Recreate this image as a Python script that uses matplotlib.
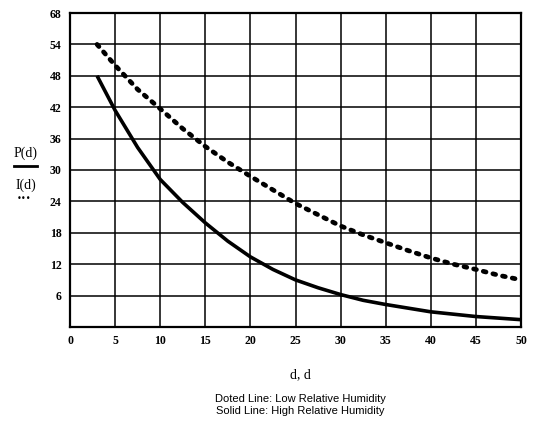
import matplotlib
matplotlib.use("Agg")
import matplotlib.pyplot as plt
from matplotlib.lines import Line2D

# Data
x_solid = [3, 4, 5, 7.5, 10, 12.5, 15, 17.5, 20, 22.5, 25, 27.5, 30, 32.5, 35, 40, 45, 50]
y_solid = [48, 44.7, 41.4, 34.3, 28.2, 23.8, 19.9, 16.4, 13.4, 11.0, 9.0, 7.5, 6.2, 5.1, 4.3, 2.9, 2.0, 1.4]
x_dot = [3, 5, 7.5, 10, 12.5, 15, 17.5, 20, 25, 30, 32.5, 35, 37.5, 40, 42.5, 45, 47.5, 50]
y_dot = [54, 50.0, 45.4, 41.7, 37.9, 34.5, 31.5, 28.8, 23.6, 19.3, 17.6, 16.1, 14.6, 13.2, 12.0, 11.0, 9.9, 9.0]

x_ticks = [0, 5, 10, 15, 20, 25, 30, 35, 40, 45, 50]
x_ticklabels = ["0", "5", "10", "15", "20", "25", "30", "35", "40", "45", "50"]
y_ticks = [6, 12, 18, 24, 30, 36, 42, 48, 54, 60]
y_ticklabels = ["6", "12", "18", "24", "30", "36", "42", "48", "54", "68"]

fig = plt.figure(figsize=(5.34, 4.23), dpi=100)
ax = fig.add_axes([70/534, 1-327/423, 451/534, 314/423])

ax.plot(x_solid, y_solid, color="black", lw=2.6, solid_capstyle="butt",
        solid_joinstyle="round", zorder=3)
ax.plot(x_dot, y_dot, color="black", lw=3.4, linestyle=(0, (0.6, 1.5)),
        dash_capstyle="round", zorder=3)

ax.set_xlim(0, 50)
ax.set_ylim(0, 60)
ax.set_xticks(x_ticks)
ax.set_yticks(y_ticks)
ax.set_xticklabels(x_ticklabels)
ax.set_yticklabels(y_ticklabels)
ax.grid(True, color="black", lw=1.1)
ax.set_axisbelow(True)
ax.tick_params(length=0, pad=6)
for lab in ax.get_xticklabels() + ax.get_yticklabels():
    lab.set_fontfamily("Liberation Serif")
    lab.set_fontweight("bold")
    lab.set_fontsize(8.5)
for s in ax.spines.values():
    s.set_linewidth(1.6)
    s.set_color("black")

# x label
fig.text(300/534, 1-375/423, "d, d", ha="center", va="center",
         fontfamily="Liberation Serif", fontsize=10)

# y label composite
fig.text(26/534, 1-153/423, "P(d)", ha="center", va="center",
         fontfamily="Liberation Serif", fontsize=10)
fig.add_artist(Line2D([14/534, 37/534], [1-166/423, 1-166/423],
                      color="black", lw=2, transform=fig.transFigure))
fig.text(26/534, 1-185/423, "I(d)", ha="center", va="center",
         fontfamily="Liberation Serif", fontsize=10)
fig.text(24/534, 1-198/423, "\u2022\u2022\u2022", ha="center", va="center",
         fontfamily="DejaVu Sans", fontsize=6)

# caption
fig.text(300/534, 1-399/423, "Doted Line: Low Relative Humidity",
         ha="center", va="center", fontfamily="Liberation Sans", fontsize=8)
fig.text(300/534, 1-411/423, "Solid Line: High Relative Humidity",
         ha="center", va="center", fontfamily="Liberation Sans", fontsize=8)

fig.savefig("out.png", dpi=100)
